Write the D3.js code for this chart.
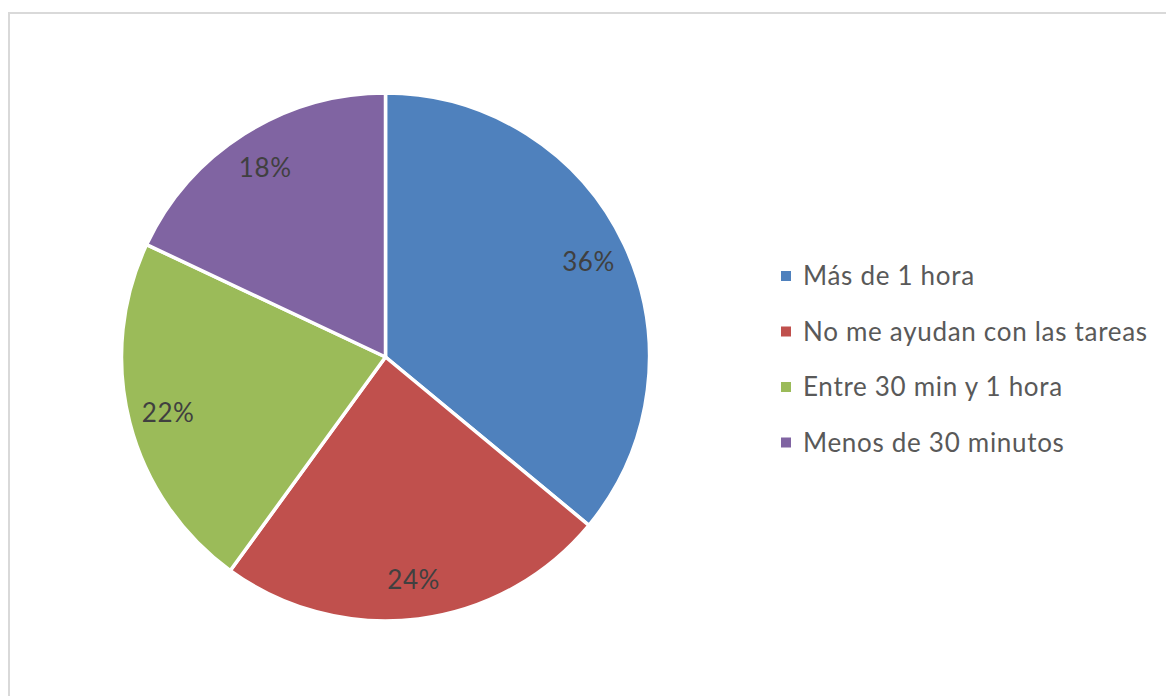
<!DOCTYPE html>
<html>
<head>
<meta charset="utf-8">
<script src="https://cdn.jsdelivr.net/npm/d3@7"></script>
<style>
  html, body { margin: 0; padding: 0; background: #fff; }
  svg { display: block; }
</style>
</head>
<body>
<svg id="chart" width="1166" height="696"></svg>
<script>
// Tiempo de ayuda con las tareas (porcentaje)
const categories = ["Más de 1 hora", "No me ayudan con las tareas", "Entre 30 min y 1 hora", "Menos de 30 minutos"];
const values = [36, 24, 22, 18];
const colors = ["#4f81bd", "#c0504d", "#9bbb59", "#8064a2"];

const svg = d3.select("#chart");
const W = 1166, H = 696;
const font = "Lato, 'Open Sans', sans-serif";

// chart area frame (extends past the right and bottom edges)
svg.append("rect")
  .attr("x", 9).attr("y", 13)
  .attr("width", W + 20).attr("height", H + 20)
  .attr("fill", "#fff")
  .attr("stroke", "#d9d9d9").attr("stroke-width", 2);

const cx = 385.5, cy = 357, R = 264;
const data = categories.map((c, i) => ({ name: c, value: values[i], color: colors[i] }));

const pie = d3.pie().value(d => d.value).sort(null);
const arcs = pie(data);
const arc = d3.arc().innerRadius(0).outerRadius(R);
const labelArc = d3.arc().innerRadius(R * 0.85).outerRadius(R * 0.85);

const g = svg.append("g").attr("transform", `translate(${cx},${cy})`);

g.selectAll("path.slice")
  .data(arcs)
  .join("path")
  .attr("class", "slice")
  .attr("d", arc)
  .attr("fill", d => d.data.color)
  .attr("stroke", "#fff")
  .attr("stroke-width", 3.5)
  .attr("stroke-linejoin", "round");

g.selectAll("text.pct")
  .data(arcs)
  .join("text")
  .attr("class", "pct")
  .attr("transform", d => `translate(${labelArc.centroid(d)})`)
  .attr("text-anchor", "middle")
  .attr("dy", "0.35em")
  .attr("font-family", font)
  .attr("font-size", 26)
  .attr("letter-spacing", 0.6)
  .attr("fill", "#404040")
  .text(d => d.data.value + "%");

// legend
const legend = svg.append("g").attr("transform", "translate(781,276)");
const rowH = 55.5;
const rows = legend.selectAll("g.row")
  .data(data)
  .join("g")
  .attr("class", "row")
  .attr("transform", (d, i) => `translate(0,${i * rowH})`);

rows.append("rect")
  .attr("x", 0).attr("y", -5)
  .attr("width", 10).attr("height", 10)
  .attr("fill", d => d.color);

rows.append("text")
  .attr("x", 22).attr("y", 0)
  .attr("dy", "0.35em")
  .attr("font-family", font)
  .attr("font-size", 26)
  .attr("letter-spacing", 0.7)
  .attr("fill", "#595959")
  .text(d => d.name);
</script>
</body>
</html>
